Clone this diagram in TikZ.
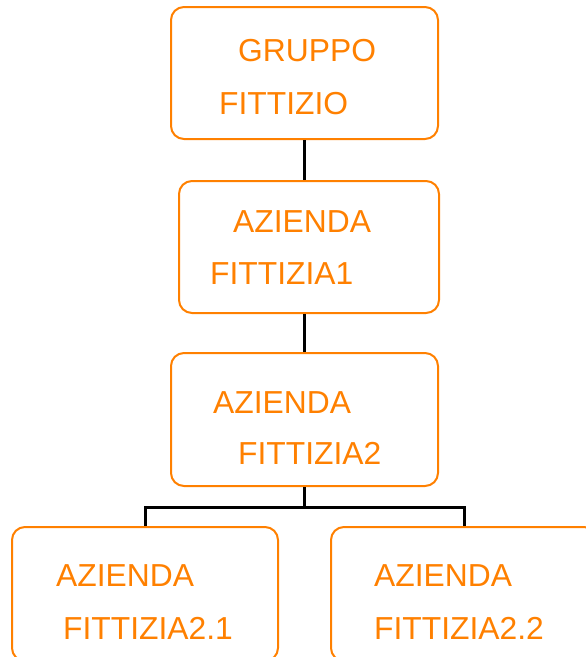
\documentclass[tikz,border=0pt]{standalone}
\usepackage{fontspec}
\setmainfont{Liberation Sans}
\usetikzlibrary{calc}
\definecolor{boxorange}{RGB}{255,128,0}
\tikzset{
  box/.style={draw=boxorange, line width=2pt, rounded corners=13pt, inner sep=0pt},
  lbl/.style={text=boxorange, font=\fontsize{31.8pt}{36pt}\selectfont, anchor=base west, inner sep=0pt},
  conn/.style={draw=black, line width=3pt}
}
\begin{document}
\begin{tikzpicture}[x=1pt,y=1pt]
\useasboundingbox (0,0) rectangle (586,-657);
\node[box, minimum width=267pt, minimum height=132pt] (b1) at (304.5,-73) {};
\node[box, minimum width=260pt, minimum height=132pt] (b2) at (309,-247) {};
\node[box, minimum width=267pt, minimum height=133pt] (b3) at (304.5,-419.5) {};
\node[box, minimum width=266pt, minimum height=134pt] (b4) at (145,-594) {};
\node[box, minimum width=266pt, minimum height=134pt] (b5) at (464,-594) {};
\node[lbl] (t1a) at (238,-61) {GRUPPO};
\node[lbl] (t1b) at (219,-114) {FITTIZIO};
\node[lbl] (t2a) at (233,-232) {AZIENDA};
\node[lbl] (t2b) at (210,-284) {FITTIZIA1};
\node[lbl] (t3a) at (213,-413) {AZIENDA};
\node[lbl] (t3b) at (238,-464) {FITTIZIA2};
\node[lbl] (t4a) at (56,-586) {AZIENDA};
\node[lbl] (t4b) at (63,-639) {FITTIZIA2.1};
\node[lbl] (t5a) at (374,-586) {AZIENDA};
\node[lbl] (t5b) at (374,-639) {FITTIZIA2.2};
\coordinate (split) at ($(b3.south)+(0,-20)$);
\draw[conn] (b1.south) -- (b1.south |- b2.north);
\draw[conn] (b1.south |- b2.south) -- (b1.south |- b3.north);
\draw[conn] (b3.south) -- (split);
\draw[conn] (split) -| (b4.north);
\draw[conn] (split) -| (b5.north);
\end{tikzpicture}
\end{document}
